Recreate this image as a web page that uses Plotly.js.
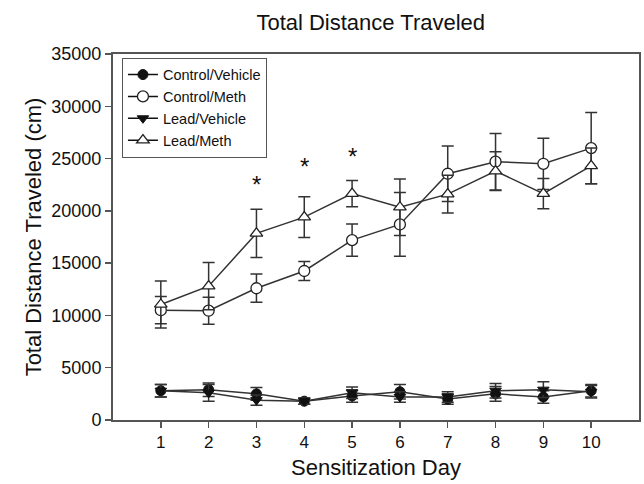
<!DOCTYPE html>
<html>
<head>
<meta charset="utf-8">
<script src="https://cdn.plot.ly/plotly-3.0.1.min.js"></script>
<style>html,body{margin:0;padding:0;background:#fff;}#chart{width:644px;height:484px;}</style>
</head>
<body>
<div id="chart"></div>
<script>
// Data
var days = [1, 2, 3, 4, 5, 6, 7, 8, 9, 10];
var controlVehicle = [2800, 2900, 2500, 1800, 2300, 2700, 2000, 2500, 2200, 2800];
var controlVehicleErr = [600, 650, 600, 300, 600, 700, 500, 700, 600, 600];
var controlMeth = [10500, 10450, 12600, 14250, 17200, 18700, 23550, 24700, 24500, 26000];
var controlMethErr = [1300, 1300, 1350, 900, 1550, 3050, 2650, 2700, 2450, 3400];
var leadVehicle = [2800, 2600, 1900, 1800, 2600, 2200, 2200, 2800, 2900, 2700];
var leadVehicleErr = [600, 800, 500, 300, 550, 500, 500, 700, 750, 600];
var leadMeth = [11050, 12800, 17850, 19400, 21650, 20350, 21600, 23800, 21650, 24300];
var leadMethErr = [2250, 2250, 2300, 1950, 1250, 2700, 1800, 1850, 1450, 1700];
var seriesNames = ['Control/Vehicle', 'Control/Meth', 'Lead/Vehicle', 'Lead/Meth'];
var sigDays = [3, 4, 5];
var sigY = [22500, 24200, 25200];
var xTickVals = [1, 2, 3, 4, 5, 6, 7, 8, 9, 10];
var yTickVals = [0, 5000, 10000, 15000, 20000, 25000, 30000, 35000];

var lineCol = '#333333';
var fontFam = 'Liberation Sans, Arial, sans-serif';
var markers = [
  {symbol: 'circle', size: 10, color: '#111', line: {color: '#111', width: 1}},
  {symbol: 'circle', size: 11, color: '#fff', line: {color: '#222', width: 1.3}},
  {symbol: 'triangle-down', size: 10, color: '#111', line: {color: '#111', width: 1}},
  {symbol: 'triangle-up', size: 11, color: '#fff', line: {color: '#222', width: 1.3}}
];
var ys = [controlVehicle, controlMeth, leadVehicle, leadMeth];
var errs = [controlVehicleErr, controlMethErr, leadVehicleErr, leadMethErr];

var traces = [];
for (var i = 0; i < 4; i++) {
  traces.push({x: days, y: ys[i], name: seriesNames[i], type: 'scatter', mode: 'lines+markers',
    showlegend: false, line: {color: lineCol, width: 1.5},
    error_y: {type: 'data', array: errs[i], visible: true, color: lineCol, thickness: 1.5, width: 6},
    marker: markers[i]});
}
// legend entries (no error bars in legend)
for (var j = 0; j < 4; j++) {
  traces.push({x: [null], y: [null], name: seriesNames[j], type: 'scatter', mode: 'lines+markers',
    showlegend: true, line: {color: '#111', width: 1.5}, marker: markers[j]});
}

var annotations = sigDays.map(function (d, k) {
  return {x: d, y: sigY[k], xref: 'x', yref: 'y', text: '*', showarrow: false,
          font: {size: 24, color: '#111', family: fontFam}};
});

var layout = {
  width: 644, height: 484,
  margin: {l: 113, r: 5, t: 54, b: 64},
  paper_bgcolor: '#fff', plot_bgcolor: '#fff',
  font: {family: fontFam, color: '#111', size: 14},
  title: {text: 'Total Distance Traveled', xref: 'paper', x: 0.49, xanchor: 'center', y: 0.953, yanchor: 'middle',
          font: {size: 22, family: fontFam, color: '#111'}},
  showlegend: true,
  legend: {x: 0.017, y: 0.99, xanchor: 'left', yanchor: 'top', bgcolor: '#fff',
           bordercolor: '#555', borderwidth: 1, font: {size: 14.5, family: fontFam, color: '#111'},
           tracegroupgap: 0},
  xaxis: {range: [0, 11], tickvals: xTickVals, ticktext: xTickVals.map(String),
          showgrid: false, zeroline: false, showline: true, linecolor: '#555', linewidth: 2,
          mirror: true, ticks: 'outside', ticklen: 6, tickwidth: 1.5, tickcolor: '#555',
          tickfont: {size: 17, family: fontFam, color: '#111'},
          title: {text: 'Sensitization Day', font: {size: 22, family: fontFam, color: '#111'}, standoff: 8}},
  yaxis: {range: [0, 35000], tickvals: yTickVals, ticktext: yTickVals.map(String),
          showgrid: false, zeroline: false, showline: true, linecolor: '#555', linewidth: 2,
          mirror: true, ticks: 'outside', ticklen: 6, tickwidth: 1.5, tickcolor: '#555',
          tickfont: {size: 18, family: fontFam, color: '#111'},
          title: {text: 'Total Distance Traveled (cm)', font: {size: 22, family: fontFam, color: '#111'}, standoff: 4}},
  annotations: annotations
};

Plotly.newPlot('chart', traces, layout, {displayModeBar: false, staticPlot: true});
</script>
</body>
</html>
